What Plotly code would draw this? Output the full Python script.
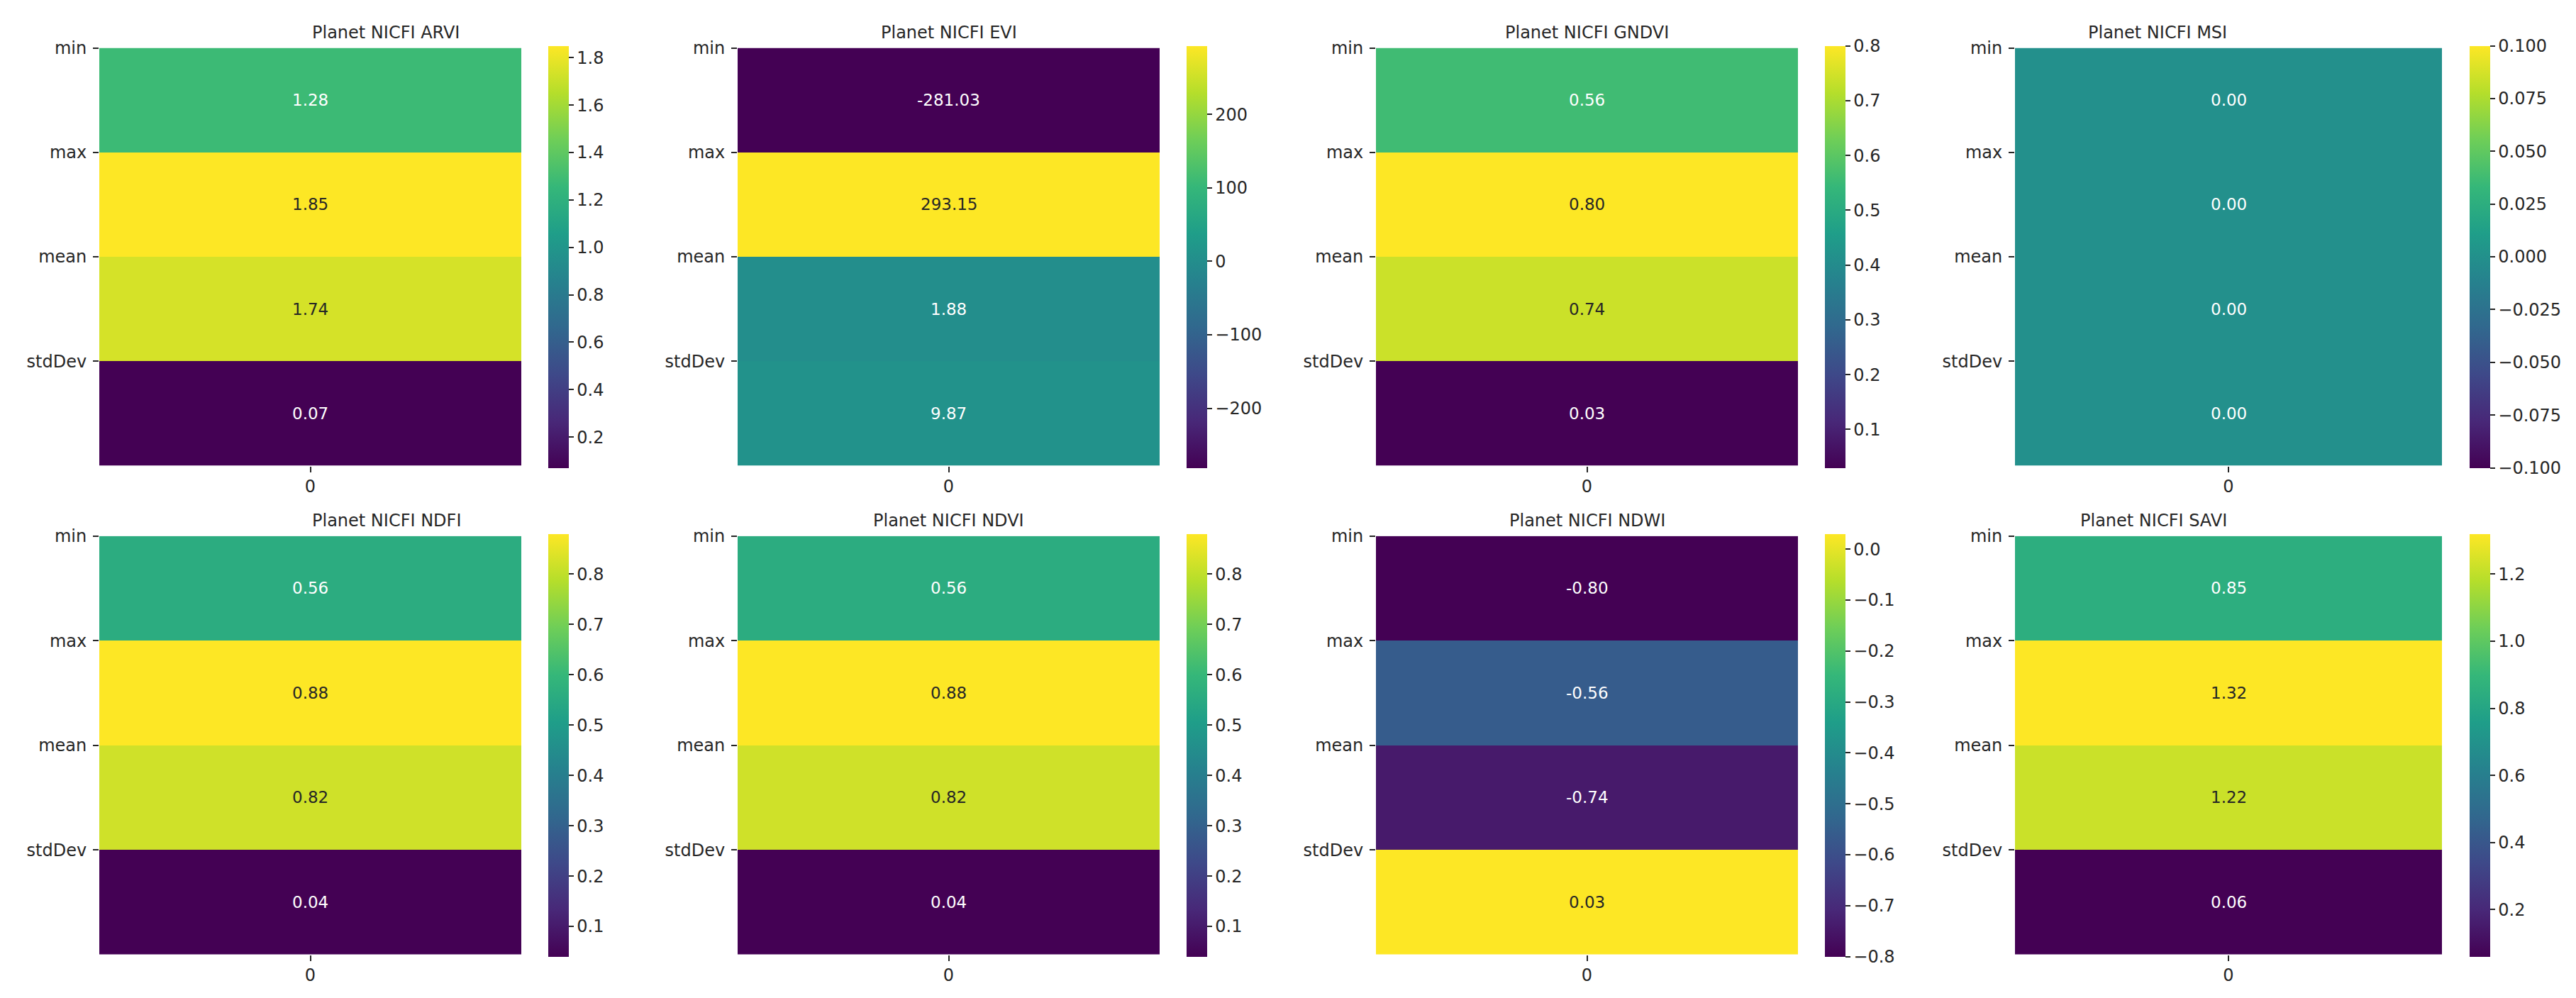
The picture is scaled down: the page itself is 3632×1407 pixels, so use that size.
import plotly.graph_objects as go
from plotly.colors import sample_colorscale

W, H = 3632, 1407

stats = ["min", "max", "mean", "stdDev"]
titles = ["Planet NICFI ARVI", "Planet NICFI EVI", "Planet NICFI GNDVI", "Planet NICFI MSI",
          "Planet NICFI NDFI", "Planet NICFI NDVI", "Planet NICFI NDWI", "Planet NICFI SAVI"]

arvi = [1.28, 1.85, 1.74, 0.07]
evi = [-281.03, 293.15, 1.88, 9.87]
gndvi = [0.56, 0.80, 0.74, 0.03]
msi = [0.00, 0.00, 0.00, 0.00]
ndfi = [0.56, 0.88, 0.82, 0.04]
ndvi = [0.56, 0.88, 0.82, 0.04]
ndwi = [-0.80, -0.56, -0.74, 0.03]
savi = [0.85, 1.32, 1.22, 0.06]

arvi_ticks = [0.2, 0.4, 0.6, 0.8, 1.0, 1.2, 1.4, 1.6, 1.8]
evi_ticks = [-200, -100, 0, 100, 200]
gndvi_ticks = [0.1, 0.2, 0.3, 0.4, 0.5, 0.6, 0.7, 0.8]
msi_ticks = [-0.1, -0.075, -0.05, -0.025, 0.0, 0.025, 0.05, 0.075, 0.1]
ndfi_ticks = [0.1, 0.2, 0.3, 0.4, 0.5, 0.6, 0.7, 0.8]
ndvi_ticks = [0.1, 0.2, 0.3, 0.4, 0.5, 0.6, 0.7, 0.8]
ndwi_ticks = [-0.8, -0.7, -0.6, -0.5, -0.4, -0.3, -0.2, -0.1, 0.0]
savi_ticks = [0.2, 0.4, 0.6, 0.8, 1.0, 1.2]
tick_fmt = [".1f", ".0f", ".1f", ".3f", ".1f", ".1f", ".1f", ".1f"]

panels = [arvi, evi, gndvi, msi, ndfi, ndvi, ndwi, savi]
ticks = [arvi_ticks, evi_ticks, gndvi_ticks, msi_ticks, ndfi_ticks, ndvi_ticks, ndwi_ticks, savi_ticks]

# pixel layout (left, right of heatmap, colorbar left) per column; rows top/bottom
col_px = [(132, 727, 765), (1032, 1627, 1665), (1932, 2527, 2565), (2833, 3435, 3474)]
row_px = [(46, 641), (741, 1337)]

FONT = "DejaVu Sans"
INK = "#262626"


def lum(rgb):
    vals = [int(c) / 255 for c in rgb.replace("rgb(", "").replace(")", "").split(",")]
    lin = [v / 12.92 if v <= 0.03928 else ((v + 0.055) / 1.055) ** 2.4 for v in vals]
    return 0.2126 * lin[0] + 0.7152 * lin[1] + 0.0722 * lin[2]


def fmt_tick(v, f):
    s = format(v, f)
    if s.startswith("-"):
        s = "\u2212" + s[1:]
    return s


fig = go.Figure()
annotations = []

for i, vals in enumerate(panels):
    r, c = divmod(i, 4)
    x0, x1, cbx = col_px[c]
    y0, y1 = row_px[r]
    n = i + 1
    xa = "x" if n == 1 else f"x{n}"
    ya = "y" if n == 1 else f"y{n}"
    zmin, zmax = min(vals), max(vals)
    if zmin == zmax:
        zmin, zmax = zmin - 0.1, zmax + 0.1

    fig.add_trace(go.Heatmap(
        z=[[v] for v in vals], x=[0], y=list(range(len(stats))),
        zmin=zmin, zmax=zmax, colorscale="Viridis", xaxis=xa, yaxis=ya,
        hoverinfo="skip",
        colorbar=dict(
            x=cbx / W, xanchor="left", xpad=0,
            y=1 - (y0 + y1) / 2 / H, yanchor="middle", ypad=0,
            len=y1 - y0, lenmode="pixels",
            thickness=29, thicknessmode="pixels",
            outlinewidth=0, ticks="outside", ticklen=7, tickwidth=1.5, tickcolor=INK,
            tickvals=ticks[i], ticktext=[fmt_tick(t, tick_fmt[i]) for t in ticks[i]],
            tickfont=dict(family=FONT, size=24, color=INK),
        ),
    ))

    dom_x = [x0 / W, x1 / W]
    dom_y = [1 - y1 / H, 1 - y0 / H]
    fig.layout[f"xaxis{'' if n == 1 else n}"] = dict(
        domain=dom_x, anchor=ya, range=[-0.5, 0.5], tickvals=[0], ticktext=["0"],
        ticks="outside", ticklen=8, tickwidth=1.5, tickcolor=INK, showgrid=False, zeroline=False,
        showline=False, tickfont=dict(family=FONT, size=24, color=INK), fixedrange=True,
    )
    fig.layout[f"yaxis{'' if n == 1 else n}"] = dict(
        domain=dom_y, anchor=xa, range=[len(stats) - 0.5, -0.5],
        tickvals=[k - 0.5 for k in range(len(stats))], ticktext=stats,
        ticks="outside", ticklen=8, tickwidth=1.5, tickcolor=INK, showgrid=False, zeroline=False,
        showline=False, tickfont=dict(family=FONT, size=24, color=INK), ticklabelstandoff=4,
        fixedrange=True,
    )

    # cell labels: dark on light cells, white on dark ones
    colors = sample_colorscale("Viridis", [(v - zmin) / (zmax - zmin) for v in vals])
    for k, v in enumerate(vals):
        annotations.append(dict(
            x=0, y=k, xref=xa, yref=ya, text=f"{v:.2f}", showarrow=False,
            font=dict(family=FONT, size=23, color=INK if lum(colors[k]) > 0.408 else "white"),
        ))

    annotations.append(dict(
        x=(x0 + x1) / 2 / W, y=1 - y0 / H, xref="paper", yref="paper", yanchor="bottom",
        yshift=6, text=titles[i], showarrow=False,
        font=dict(family=FONT, size=24, color=INK),
    ))

fig.update_layout(
    width=W, height=H, margin=dict(l=0, r=0, t=0, b=0),
    paper_bgcolor="white", plot_bgcolor="white",
    annotations=annotations, showlegend=False,
)

fig.write_html("out.html")
